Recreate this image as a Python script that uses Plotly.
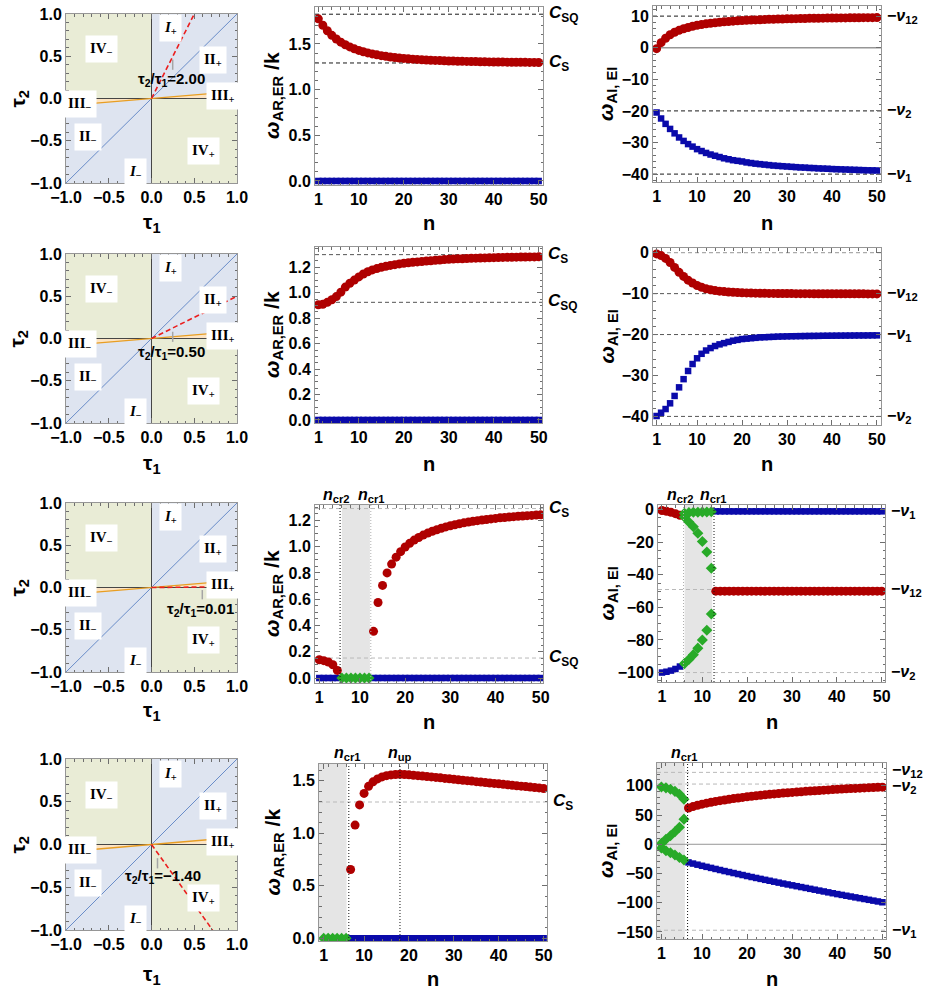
import plotly.graph_objects as go

W, H = 927, 989
OFF = 0  # body margin is removed by the post script below
FW, FH = W - OFF, H - OFF

# ---------------- data ----------------
N = list(range(1, 51))
N_R3_LOW = [1, 2, 3, 4, 5]
N_R3_GAP = [6, 7, 8, 9, 10, 11, 12]
N_R3_HIGH = list(range(13, 51))
N_R4_LOW = [1, 2, 3, 4, 5, 6]
N_R4_HIGH = list(range(7, 51))
TICKS_N = [1, 10, 20, 30, 40, 50]
TAU_TICKS = [-1.0, -0.5, 0.0, 0.5, 1.0]
TAU_TICKTEXT = ["\u22121.0", "\u22120.5", "0.0", "0.5", "1.0"]

RATIOS = [2.00, 0.50, 0.01, -1.40]
ORANGE_SLOPE = 0.085

# row 1
R1C2_RED = [1.775, 1.705, 1.645, 1.595, 1.555, 1.52, 1.492, 1.468, 1.447, 1.43,
            1.415, 1.402, 1.391, 1.381, 1.372, 1.365, 1.358, 1.352, 1.347, 1.342,
            1.338, 1.334, 1.331, 1.328, 1.325, 1.322, 1.32, 1.318, 1.316, 1.314,
            1.313, 1.311, 1.31, 1.309, 1.308, 1.307, 1.306, 1.305, 1.304, 1.303,
            1.302, 1.302, 1.301, 1.3, 1.3, 1.299, 1.299, 1.298, 1.298, 1.297]
R1C2_BLUE = [0.0, 0.0, 0.0, 0.0, 0.0, 0.0, 0.0, 0.0, 0.0, 0.0,
             0.0, 0.0, 0.0, 0.0, 0.0, 0.0, 0.0, 0.0, 0.0, 0.0,
             0.0, 0.0, 0.0, 0.0, 0.0, 0.0, 0.0, 0.0, 0.0, 0.0,
             0.0, 0.0, 0.0, 0.0, 0.0, 0.0, 0.0, 0.0, 0.0, 0.0,
             0.0, 0.0, 0.0, 0.0, 0.0, 0.0, 0.0, 0.0, 0.0, 0.0]
R1C3_RED = [-0.3, 1.6, 3.0, 4.1, 4.9, 5.5, 6.0, 6.4, 6.8, 7.1,
            7.35, 7.55, 7.75, 7.9, 8.05, 8.2, 8.3, 8.4, 8.5, 8.6,
            8.67, 8.74, 8.8, 8.86, 8.92, 8.97, 9.02, 9.06, 9.1, 9.14,
            9.17, 9.2, 9.23, 9.26, 9.29, 9.31, 9.33, 9.35, 9.37, 9.39,
            9.41, 9.43, 9.44, 9.46, 9.47, 9.49, 9.5, 9.51, 9.52, 9.53]
R1C3_BLUE = [-20.5, -22.4, -24.1, -25.7, -27.1, -28.4, -29.5, -30.5, -31.3, -32.1,
             -32.7, -33.3, -33.8, -34.2, -34.6, -35.0, -35.3, -35.6, -35.8, -36.0,
             -36.3, -36.5, -36.7, -36.85, -37.0, -37.15, -37.3, -37.4, -37.5, -37.6,
             -37.7, -37.8, -37.9, -37.95, -38.05, -38.1, -38.2, -38.25, -38.3, -38.4,
             -38.45, -38.5, -38.55, -38.6, -38.65, -38.7, -38.75, -38.8, -38.82, -38.85]

# row 2
R2C2_RED = [0.905, 0.91, 0.925, 0.945, 0.97, 1.005, 1.045, 1.075, 1.10, 1.125,
            1.148, 1.165, 1.18, 1.19, 1.2, 1.208, 1.215, 1.221, 1.227, 1.232,
            1.236, 1.24, 1.243, 1.246, 1.249, 1.252, 1.255, 1.258, 1.261, 1.263,
            1.265, 1.267, 1.268, 1.27, 1.271, 1.272, 1.273, 1.274, 1.275, 1.276,
            1.277, 1.278, 1.279, 1.279, 1.28, 1.281, 1.281, 1.282, 1.282, 1.283]
R2C2_BLUE = R1C2_BLUE
R2C3_RED = [-0.3, -0.7, -1.4, -2.4, -3.6, -4.8, -5.8, -6.7, -7.4, -8.0,
            -8.45, -8.8, -9.05, -9.25, -9.4, -9.5, -9.6, -9.67, -9.73, -9.78,
            -9.82, -9.85, -9.88, -9.9, -9.92, -9.94, -9.95, -9.96, -9.97, -9.98,
            -9.99, -10.0, -10.0, -10.01, -10.01, -10.02, -10.02, -10.03, -10.03, -10.03,
            -10.04, -10.04, -10.04, -10.05, -10.05, -10.05, -10.05, -10.06, -10.06, -10.06]
R2C3_BLUE = [-39.9, -39.1, -38.2, -36.8, -35.0, -32.9, -30.9, -28.9, -27.2, -25.8,
             -24.7, -23.9, -23.3, -22.8, -22.4, -22.1, -21.8, -21.5, -21.3, -21.1,
             -21.0, -20.9, -20.8, -20.7, -20.65, -20.6, -20.55, -20.5, -20.47, -20.44,
             -20.42, -20.4, -20.38, -20.36, -20.34, -20.33, -20.32, -20.3, -20.29, -20.28,
             -20.27, -20.26, -20.25, -20.24, -20.23, -20.22, -20.22, -20.21, -20.2, -20.2]

# row 3
R3C2_RED_LOW = [0.139, 0.132, 0.122, 0.101, 0.058]
R3C2_RED_HIGH = [0.355, 0.575, 0.705, 0.80, 0.867, 0.92, 0.962, 0.997,
                 1.025, 1.05, 1.07, 1.088, 1.103, 1.117, 1.129, 1.14, 1.15, 1.159,
                 1.167, 1.174, 1.181, 1.187, 1.193, 1.198, 1.203, 1.207, 1.211, 1.215,
                 1.219, 1.222, 1.225, 1.228, 1.231, 1.233, 1.236, 1.238, 1.24, 1.242]
R3C2_BLUE_LOW = [0.0, 0.0, 0.0, 0.0, 0.0]
R3C2_BLUE_HIGH = [0.0, 0.0, 0.0, 0.0, 0.0, 0.0, 0.0, 0.0, 0.0, 0.0,
                  0.0, 0.0, 0.0, 0.0, 0.0, 0.0, 0.0, 0.0, 0.0, 0.0,
                  0.0, 0.0, 0.0, 0.0, 0.0, 0.0, 0.0, 0.0, 0.0, 0.0,
                  0.0, 0.0, 0.0, 0.0, 0.0, 0.0, 0.0, 0.0]
R3C2_GREEN = [0.0, 0.0, 0.0, 0.0, 0.0, 0.0, 0.0]
R3C3_RED_LOW = [-0.5, -1.0, -1.6, -2.4, -3.4]
R3C3_RED_HIGH = [-50.0, -50.0, -50.0, -50.0, -50.0, -50.0, -50.0, -50.0, -50.0, -50.0,
                 -50.0, -50.0, -50.0, -50.0, -50.0, -50.0, -50.0, -50.0, -50.0, -50.0,
                 -50.0, -50.0, -50.0, -50.0, -50.0, -50.0, -50.0, -50.0, -50.0, -50.0,
                 -50.0, -50.0, -50.0, -50.0, -50.0, -50.0, -50.0, -50.0]
R3C3_BLUE_LOW = [-100.0, -99.5, -98.8, -97.8, -96.3]
R3C3_BLUE_HIGH = [-1.0, -1.0, -1.0, -1.0, -1.0, -1.0, -1.0, -1.0, -1.0, -1.0,
                  -1.0, -1.0, -1.0, -1.0, -1.0, -1.0, -1.0, -1.0, -1.0, -1.0,
                  -1.0, -1.0, -1.0, -1.0, -1.0, -1.0, -1.0, -1.0, -1.0, -1.0,
                  -1.0, -1.0, -1.0, -1.0, -1.0, -1.0, -1.0, -1.0]
R3C3_GREEN_A = [-2.2, -1.8, -1.6, -1.5, -1.4, -1.4, -1.3]
R3C3_GREEN_B = [-4.5, -7.5, -10.5, -14.5, -19.5, -26.0, -36.0]
R3C3_GREEN_C = [-94.5, -92.0, -89.0, -85.0, -80.0, -74.0, -64.0]

# row 4
R4C2_GREEN = [0.0, 0.0, 0.0, 0.0, 0.0, 0.0]
R4C2_BLUE = [0.0, 0.0, 0.0, 0.0, 0.0, 0.0, 0.0, 0.0, 0.0, 0.0,
             0.0, 0.0, 0.0, 0.0, 0.0, 0.0, 0.0, 0.0, 0.0, 0.0,
             0.0, 0.0, 0.0, 0.0, 0.0, 0.0, 0.0, 0.0, 0.0, 0.0,
             0.0, 0.0, 0.0, 0.0, 0.0, 0.0, 0.0, 0.0, 0.0, 0.0,
             0.0, 0.0, 0.0, 0.0]
R4C2_RED = [0.655, 1.078, 1.27, 1.38, 1.447, 1.49, 1.518, 1.537, 1.549, 1.556,
            1.56, 1.562, 1.560, 1.557, 1.553, 1.549, 1.545, 1.541, 1.537, 1.532,
            1.528, 1.523, 1.519, 1.514, 1.51, 1.505, 1.501, 1.497, 1.492, 1.488,
            1.484, 1.479, 1.475, 1.471, 1.466, 1.462, 1.458, 1.453, 1.449, 1.445,
            1.44, 1.436, 1.432, 1.427]
R4C3_GREEN_A = [98.0, 96.5, 94.0, 90.5, 85.5, 77.0]
R4C3_GREEN_B = [1.5, 8.5, 14.5, 21.5, 29.0, 43.0]
R4C3_GREEN_C = [-6.5, -11.0, -14.5, -18.5, -22.5, -27.0]
R4C3_RED = [62.0, 64.5, 66.7, 68.6, 70.3, 71.9, 73.3, 74.6, 75.8, 77.0,
            78.1, 79.2, 80.2, 81.2, 82.1, 83.0, 83.8, 84.6, 85.4, 86.1,
            86.8, 87.5, 88.1, 88.7, 89.3, 89.9, 90.5, 91.0, 91.5, 92.0,
            92.5, 93.0, 93.5, 94.0, 94.4, 94.8, 95.2, 95.6, 96.0, 96.4,
            96.8, 97.1, 97.4, 97.7]
R4C3_BLUE = [-31.0, -33.0, -34.9, -36.8, -38.6, -40.4, -42.2, -44.0, -45.8, -47.5,
             -49.2, -50.9, -52.6, -54.3, -56.0, -57.6, -59.2, -60.8, -62.4, -64.0,
             -65.6, -67.2, -68.7, -70.2, -71.7, -73.2, -74.7, -76.2, -77.7, -79.2,
             -80.7, -82.2, -83.7, -85.2, -86.6, -88.0, -89.4, -90.8, -92.2, -93.6,
             -95.0, -96.4, -97.8, -99.2]

CS = "<i>C</i><sub>S</sub>"
CSQ = "<i>C</i><sub>SQ</sub>"
NU1 = "\u2212<i>\u03bd</i><sub>1</sub>"
NU2 = "\u2212<i>\u03bd</i><sub>2</sub>"
NU12 = "\u2212<i>\u03bd</i><sub>12</sub>"
# (line level, label, label level)
C2_LEVELS = [[(1.826, CSQ, 1.826), (1.292, CS, 1.292)],
             [(1.30, CS, 1.30), (0.925, CSQ, 0.925)],
             [(1.29, CS, 1.29), (0.152, CSQ, 0.152)],
             [(1.298, CS, 1.298)]]
C3_LEVELS = [[(10.0, NU12, 10.0), (-20.0, NU2, -20.0), (-40.0, NU1, -40.0)],
             [(0.0, None, 0.0), (-10.0, NU12, -10.0), (-20.0, NU1, -20.0), (-40.0, NU2, -40.0)],
             [(-1.0, NU1, -1.0), (-49.0, NU12, -49.0), (-100.0, NU2, -100.0)],
             [(123.0, NU12, 126.0), (103.0, NU2, 99.0), (-147.0, NU1, -147.0)]]

# ---------------- styling / layout ----------------
RED = "rgb(175,0,0)"
BLUE = "rgb(10,10,170)"
GREEN = "rgb(40,170,40)"
FRAME = "rgb(150,150,150)"
TICKC = "rgb(110,110,110)"
FONT = "Liberation Sans"
SERIF = "Liberation Serif"
TICKFONT = dict(family=FONT, size=16, color="black", weight="bold")
DASHC = ["rgb(25,25,25)", "rgb(85,85,85)", "rgb(185,185,185)", "rgb(185,185,185)"]

GREEN_Q = "rgb(233,236,214)"
BLUE_Q = "rgb(222,228,240)"
ORANGE_Q = "rgb(252,228,196)"
DIAG_C = "rgb(105,140,200)"
ORANGE_C = "rgb(232,158,35)"

# panel pixel boxes (x0, x1, y0, y1) in page pixels
BOX = {
    (0, 0): (66, 237, 14, 183), (1, 0): (66, 237, 254, 423),
    (2, 0): (66, 237, 503, 672), (3, 0): (66, 237, 759, 930),
    (0, 1): (315, 543, 7, 185), (1, 1): (315, 542, 247, 423),
    (2, 1): (315, 543, 505, 683), (3, 1): (319, 547, 764, 941),
    (0, 2): (653, 881, 6, 182), (1, 2): (653, 881, 248, 425),
    (2, 2): (658, 885, 505, 682), (3, 2): (657, 886, 763, 939),
}
XR = {1: [[0.26, 50.97], [0.26, 50.7], [0.05, 50.5], [-0.04, 50.75]],
      2: [[0.2, 50.9], [0.2, 50.9], [0.11, 50.74], [0.02, 50.8]]}
YR = {1: [[-0.044, 1.905], [-0.024, 1.36], [-0.038, 1.317], [-0.026, 1.66]],
      2: [[-42.5, 13.2], [-42.1, 1.15], [-105.8, 2.9], [-162.0, 139.0]]}
YTICK = {1: [(0.5, 0.1), (0.2, 0.05), (0.2, 0.05), (0.5, 0.1)],
         2: [(10, 2), (10, 2), (20, 5), (50, 10)]}
XTITLE_Y = [223, 464, 722, 979]
TAU1_Y = [223, 464, 711, 975]

REGION_LABELS = [("<i>I</i><sub>+</sub>", 0.22, 0.83), ("IV<sub>\u2212</sub>", -0.58, 0.58),
                 ("II<sub>+</sub>", 0.72, 0.45), ("III<sub>+</sub>", 0.84, 0.035),
                 ("III<sub>\u2212</sub>", -0.84, -0.065), ("II<sub>\u2212</sub>", -0.74, -0.45),
                 ("IV<sub>+</sub>", 0.61, -0.62), ("<i>I</i><sub>\u2212</sub>", -0.19, -0.87)]
CALLOUT_TEXT = [(0.234, 0.22), (0.235, -0.168), (0.577, -0.266), (0.13, -0.377)]
CALLOUT_TICK = [(0.248, 0.34, 0.46), (0.248, -0.04, 0.08), (0.594, -0.14, -0.03), (0.07, -0.28, -0.16)]

SHADE = {(2, 1): (6.0, 12.2), (2, 2): (6.05, 12.2), (3, 1): (-0.04, 6.1), (3, 2): (0.02, 6.2)}
VLINES = {(2, 1): [(5.6, "dark"), (12.4, "light")], (2, 2): [(5.8, "light"), (12.6, "dark")],
          (3, 1): [(6.6, "dark"), (18.0, "dark")], (3, 2): [(6.8, "dark")]}
NCR2 = "<i>n</i><sub>cr2</sub>"
NCR1 = "<i>n</i><sub>cr1</sub>"
NUP = "<i>n</i><sub>up</sub>"
TOPLABELS = [(336, 496, NCR2), (371, 496, NCR1), (680, 495, NCR2), (713, 495, NCR1),
             (347, 753, NCR1), (400, 753, NUP), (684, 753, NCR1)]


def px(x):
    return (x - OFF) / FW


def py(y):
    return 1 - (y - OFF) / FH


fig = go.Figure()
layout = dict(width=FW, height=FH, margin=dict(l=0, r=0, t=0, b=0, autoexpand=False),
              paper_bgcolor="white", plot_bgcolor="white", showlegend=False)
shapes = []
annotations = []


def ref(i, letter):
    return letter if i == 1 else f"{letter}{i}"


def axname(i, letter):
    return f"{letter}axis" if i == 1 else f"{letter}axis{i}"


def base_axis():
    return dict(showgrid=False, zeroline=False, showline=True, linecolor=FRAME, linewidth=1,
                mirror="ticks", ticks="inside", ticklen=5, tickwidth=1, tickcolor=TICKC,
                tickfont=TICKFONT, fixedrange=True, automargin=False, ticklabeloverflow="allow")


def pid(r, c):
    return r * 3 + c + 1


def ann(x, y, text, size, xref="paper", yref="paper", **kw):
    d = dict(x=x, y=y, xref=xref, yref=yref, text=text, showarrow=False,
             xanchor="center", yanchor="middle",
             font=dict(family=FONT, size=size, color="black", weight="bold"))
    d.update(kw)
    annotations.append(d)


def add_pts(i, x, y, kind):
    st = {"red": dict(symbol="circle", size=9, color=RED),
          "blue": dict(symbol="square", size=6.5, color=BLUE),
          "green": dict(symbol="diamond", size=8.5, color=GREEN)}[kind]
    fig.add_trace(go.Scatter(x=x, y=y, mode="markers", marker=dict(**st, line=dict(width=0)),
                             xaxis=ref(i, "x"), yaxis=ref(i, "y"), hoverinfo="skip"))


def add_line(i, x, y, color, width=1, dash=None, fill=None, fillcolor=None):
    fig.add_trace(go.Scatter(x=x, y=y, mode="lines", line=dict(color=color, width=width, dash=dash),
                             fill=fill, fillcolor=fillcolor,
                             xaxis=ref(i, "x"), yaxis=ref(i, "y"), hoverinfo="skip"))


# axes
for (r, c), (x0, x1, y0, y1) in BOX.items():
    i = pid(r, c)
    xa = base_axis()
    ya = base_axis()
    xa.update(domain=[max(0, px(x0)), min(1, px(x1))], anchor=ref(i, "y"))
    ya.update(domain=[max(0, py(y1)), min(1, py(y0))], anchor=ref(i, "x"))
    if c == 0:
        xa.update(range=[-1, 1], tickmode="array", tickvals=TAU_TICKS, ticktext=TAU_TICKTEXT,
                  minor=dict(ticks="inside", ticklen=2.5, tickcolor=TICKC, tickmode="linear", tick0=0, dtick=0.1))
        ya.update(range=[-1, 1], tickmode="array", tickvals=TAU_TICKS, ticktext=TAU_TICKTEXT,
                  minor=dict(ticks="inside", ticklen=2.5, tickcolor=TICKC, tickmode="linear", tick0=0, dtick=0.1))
    else:
        major, minor = YTICK[c][r]
        xa.update(range=XR[c][r], tickmode="array", tickvals=TICKS_N,
                  minor=dict(ticks="inside", ticklen=2.5, tickcolor=TICKC, tickmode="linear", tick0=0, dtick=2))
        ya.update(range=YR[c][r], tickmode="linear", tick0=0, dtick=major,
                  tickformat=".1f" if c == 1 else "d",
                  minor=dict(ticks="inside", ticklen=2.5, tickcolor=TICKC, tickmode="linear", tick0=0, dtick=minor))
    layout[axname(i, "x")] = xa
    layout[axname(i, "y")] = ya

# ---------- column 1: tau plane ----------
QUADS = [([-1, 0, 0, -1, -1], [0, 0, 1, 1, 0], GREEN_Q),
         ([0, 1, 1, 0, 0], [-1, -1, 0, 0, -1], GREEN_Q),
         ([0, 1, 1, 0, 0], [0, 0, 1, 1, 0], BLUE_Q),
         ([-1, 0, 0, -1, -1], [-1, -1, 0, 0, -1], BLUE_Q)]
for r in range(4):
    i = pid(r, 0)
    for xs, ys, col in QUADS:
        add_line(i, xs, ys, "rgba(0,0,0,0)", width=0, fill="toself", fillcolor=col)
    add_line(i, [0, -1, -1, 0], [0, -ORANGE_SLOPE, 0, 0], "rgba(0,0,0,0)", width=0,
             fill="toself", fillcolor=ORANGE_Q)
    add_line(i, [0, 1, 1, 0], [0, ORANGE_SLOPE, 0, 0], "rgba(0,0,0,0)", width=0,
             fill="toself", fillcolor=ORANGE_Q)
    add_line(i, [-1, 1], [0, 0], "rgb(70,70,70)", width=1)
    add_line(i, [0, 0], [-1, 1], "rgb(70,70,70)", width=1)
    add_line(i, [-1, 1], [-1, 1], DIAG_C, width=1)
    add_line(i, [-1, 1], [-ORANGE_SLOPE, ORANGE_SLOPE], ORANGE_C, width=1.3)
    rr = RATIOS[r]
    xe = min(1.0, 1.0 / abs(rr))
    add_line(i, [0, xe], [0, rr * xe], "rgb(235,30,30)", width=1.6, dash="5px,3px")
    tx, ty0, ty1 = CALLOUT_TICK[r]
    add_line(i, [tx, tx], [ty0, ty1], "rgb(165,165,165)", width=1.5)
    for txt, lx, ly in REGION_LABELS:
        ann(lx, ly, txt, 15, xref=ref(i, "x"), yref=ref(i, "y"), bgcolor="white", borderpad=4,
            font=dict(family=SERIF, size=15, color="black", weight="bold"))
    cx, cy = CALLOUT_TEXT[r]
    rtxt = f"{rr:.2f}".replace("-", "\u2212")
    ann(cx, cy, f"\u03c4<sub>2</sub>/\u03c4<sub>1</sub>={rtxt}", 15, xref=ref(i, "x"), yref=ref(i, "y"))
    x0, x1, y0, y1 = BOX[(r, 0)]
    ann(px(18), py((y0 + y1) / 2), "\u03c4<sub>2</sub>", 21, textangle=-90)
    ann(px((x0 + x1) / 2), py(TAU1_Y[r]), "\u03c4<sub>1</sub>", 21)

# ---------- shading & vertical lines ----------
for (r, c), (s0, s1) in SHADE.items():
    i = pid(r, c)
    shapes.append(dict(type="rect", xref=ref(i, "x"), yref=f"{ref(i, 'y')} domain",
                       x0=s0, x1=s1, y0=0, y1=1, fillcolor="rgb(229,229,229)",
                       line=dict(width=0), layer="below"))
for (r, c), lst in VLINES.items():
    i = pid(r, c)
    for xv, kind in lst:
        shapes.append(dict(type="line", xref=ref(i, "x"), yref=f"{ref(i, 'y')} domain",
                           x0=xv, x1=xv, y0=0, y1=1,
                           line=dict(color="rgb(20,20,20)" if kind == "dark" else "rgb(175,175,175)",
                                     width=1, dash="1px,2px"), layer="above"))
for tx, ty, txt in TOPLABELS:
    ann(px(tx), py(ty), txt, 16)

# ---------- horizontal reference lines ----------
for r in range(4):
    for c, levels in ((1, C2_LEVELS[r]), (2, C3_LEVELS[r])):
        i = pid(r, c)
        x0, x1, y0, y1 = BOX[(r, c)]
        for val, lab, laby in levels:
            col = DASHC[r] if lab is not None else "rgb(150,150,150)"
            shapes.append(dict(type="line", xref=f"{ref(i, 'x')} domain", yref=ref(i, "y"),
                               x0=0, x1=1, y0=val, y1=val,
                               line=dict(color=col, width=1, dash="4px,3px"), layer="below"))
            if lab is not None:
                ann(px(x1 + 4), laby, lab, 17 if c == 1 else 16, yref=ref(i, "y"), xanchor="left")
for r in (0, 3):
    i = pid(r, 2)
    shapes.append(dict(type="line", xref=f"{ref(i, 'x')} domain", yref=ref(i, "y"),
                       x0=0, x1=1, y0=0, y1=0,
                       line=dict(color="rgb(150,150,150)", width=1.5 if r == 0 else 1), layer="below"))

# ---------- data points ----------
add_pts(pid(0, 1), N, R1C2_BLUE, "blue")
add_pts(pid(0, 1), N, R1C2_RED, "red")
add_pts(pid(0, 2), N, R1C3_BLUE, "blue")
add_pts(pid(0, 2), N, R1C3_RED, "red")

add_pts(pid(1, 1), N, R2C2_BLUE, "blue")
add_pts(pid(1, 1), N, R2C2_RED, "red")
add_pts(pid(1, 2), N, R2C3_BLUE, "blue")
add_pts(pid(1, 2), N, R2C3_RED, "red")

add_pts(pid(2, 1), N_R3_LOW, R3C2_BLUE_LOW, "blue")
add_pts(pid(2, 1), N_R3_HIGH, R3C2_BLUE_HIGH, "blue")
add_pts(pid(2, 1), N_R3_GAP, R3C2_GREEN, "green")
add_pts(pid(2, 1), N_R3_LOW, R3C2_RED_LOW, "red")
add_pts(pid(2, 1), N_R3_HIGH, R3C2_RED_HIGH, "red")
add_pts(pid(2, 2), N_R3_LOW, R3C3_BLUE_LOW, "blue")
add_pts(pid(2, 2), N_R3_HIGH, R3C3_BLUE_HIGH, "blue")
add_pts(pid(2, 2), N_R3_LOW, R3C3_RED_LOW, "red")
add_pts(pid(2, 2), N_R3_HIGH, R3C3_RED_HIGH, "red")
add_pts(pid(2, 2), N_R3_GAP, R3C3_GREEN_A, "green")
add_pts(pid(2, 2), N_R3_GAP, R3C3_GREEN_B, "green")
add_pts(pid(2, 2), N_R3_GAP, R3C3_GREEN_C, "green")

add_pts(pid(3, 1), N_R4_HIGH, R4C2_BLUE, "blue")
add_pts(pid(3, 1), N_R4_LOW, R4C2_GREEN, "green")
add_pts(pid(3, 1), N_R4_HIGH, R4C2_RED, "red")
add_pts(pid(3, 2), N_R4_HIGH, R4C3_BLUE, "blue")
add_pts(pid(3, 2), N_R4_HIGH, R4C3_RED, "red")
add_pts(pid(3, 2), N_R4_LOW, R4C3_GREEN_A, "green")
add_pts(pid(3, 2), N_R4_LOW, R4C3_GREEN_B, "green")
add_pts(pid(3, 2), N_R4_LOW, R4C3_GREEN_C, "green")

# ---------- axis titles for columns 2 and 3 ----------
for r in range(4):
    for c, txt, xt in ((1, "<i>\u03c9</i><sub>AR,ER</sub> /k", 273), (2, "<i>\u03c9</i><sub>AI, EI</sub>", 607)):
        x0, x1, y0, y1 = BOX[(r, c)]
        ann(px(xt), py((y0 + y1) / 2), txt, 21, textangle=-90)
        ann(px((x0 + x1) / 2), py(XTITLE_Y[r]), "n", 20)

layout["shapes"] = shapes
layout["annotations"] = annotations
fig.update_layout(**layout)
fig.update_traces(showlegend=False)
fig.write_html("out.html", config={"displayModeBar": False},
               post_script="document.body.style.margin='0px';")
